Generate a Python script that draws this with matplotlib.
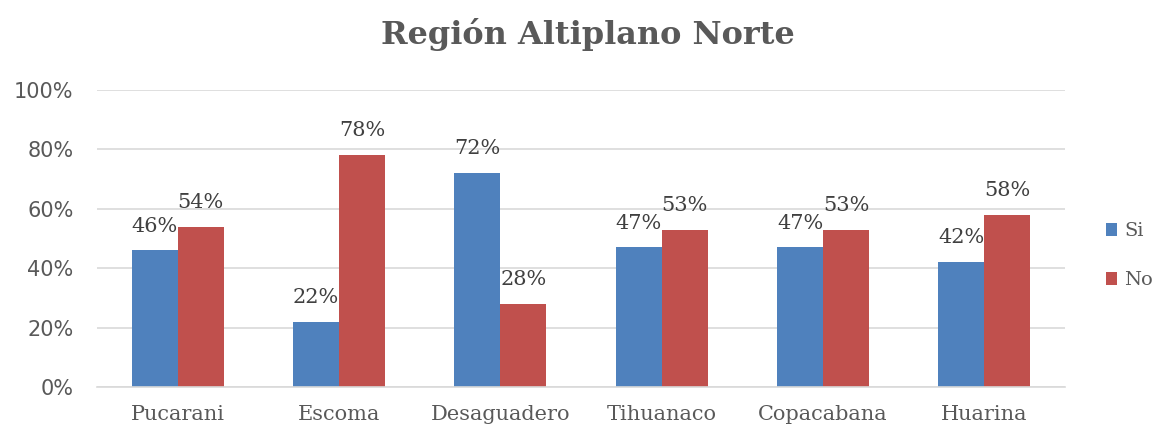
import numpy as np
import matplotlib
matplotlib.use("Agg")
import matplotlib.pyplot as plt

categories = ["Pucarani", "Escoma", "Desaguadero", "Tihuanaco", "Copacabana", "Huarina"]
si_values = [0.46, 0.22, 0.72, 0.47, 0.47, 0.42]
no_values = [0.54, 0.78, 0.28, 0.53, 0.53, 0.58]
y_ticks = [0.0, 0.2, 0.4, 0.6, 0.8, 1.0]

BLUE = "#4F81BD"
RED = "#C0504D"
GRID = "#D9D9D9"
TEXT = "#595959"

plt.rcParams["font.family"] = ["DejaVu Serif"]

fig = plt.figure(figsize=(11.58, 4.30), dpi=100)
ax = fig.add_axes([97 / 1158, 1 - 387 / 430, 968 / 1158, 297 / 430])

x = np.arange(len(categories))
w = 0.285
b1 = ax.bar(x - w / 2, si_values, w, color=BLUE, label="Si")
b2 = ax.bar(x + w / 2, no_values, w, color=RED, label="No")

# value labels above each bar
for bars, vals in ((b1, si_values), (b2, no_values)):
    for rect, v in zip(bars, vals):
        ax.text(rect.get_x() + rect.get_width() / 2, v + 0.05, f"{round(v * 100)}%",
                ha="center", va="bottom", fontsize=15, color="#404040")

ax.set_xlim(-0.5, len(categories) - 0.5)
ax.set_ylim(0, 1.0)
ax.set_yticks(y_ticks)
ax.set_yticklabels([f"{int(t * 100)}%" for t in y_ticks], fontsize=15, color=TEXT,
                   family="DejaVu Sans")
ax.set_xticks(x)
ax.set_xticklabels(categories, fontsize=15, color=TEXT)
ax.tick_params(axis="x", length=0, pad=13)
ax.tick_params(axis="y", length=0, pad=17)

ax.grid(axis="y", color=GRID, linewidth=1.2)
ax.set_axisbelow(True)
for s in ["top", "right", "left"]:
    ax.spines[s].set_visible(False)
ax.spines["bottom"].set_color(GRID)
ax.spines["bottom"].set_linewidth(1.2)

fig.text(0.508, 0.92, "Región Altiplano Norte", ha="center", va="center",
         fontsize=23, fontweight="bold", color=TEXT)

fig.legend(handles=[b1, b2], loc="center left", bbox_to_anchor=(1088 / 1158, 0.405),
           frameon=False, fontsize=14, handlelength=0.6, handleheight=0.6,
           handletextpad=0.35, labelspacing=1.6, labelcolor=TEXT)

fig.savefig("out.png", dpi=100)
